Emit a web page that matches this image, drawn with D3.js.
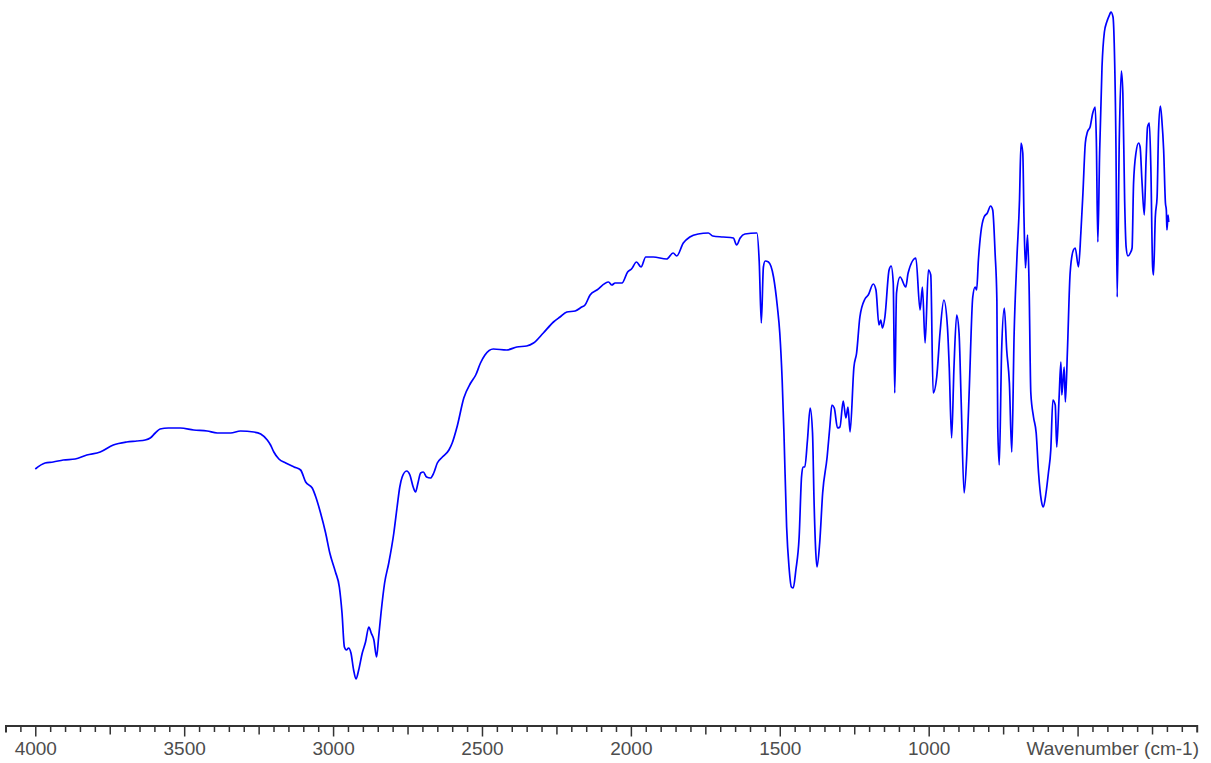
<!DOCTYPE html>
<html>
<head>
<meta charset="utf-8">
<script src="https://cdn.jsdelivr.net/npm/d3@7"></script>
<style>
  html, body { margin: 0; padding: 0; background: #fff; }
  svg { display: block; }
</style>
</head>
<body>
<svg id="chart" width="1211" height="763"></svg>
<script>
// ---- data ----
const wavenumbers = [
4000,3967,3940,3906,3866,3827,3782,3738,3693,3659,3631,3614,3597,3581,3553,3513,
3468,3423,3389,3344,3311,3266,3243,3221,3210,3199,3182,3159,3131,3109,3092,3070,
3058,3042,3025,3011,2992,2979,2970,2962,2955,2948,2940,2931,2923,2914,2902,2891,
2880,2872,2863,2854,2847,2839,2827,2813,2796,2785,2776,2768,2753,2742,2731,2723,
2715,2706,2697,2686,2673,2662,2650,2633,2611,2600,2583,2561,2538,2521,2505,2490,
2462,2417,2383,2350,2327,2294,2260,2238,2215,2187,2165,2154,2137,2114,2075,2064,
2053,2030,2011,1998,1981,1966,1950,1925,1880,1858,1846,1824,1802,1774,1740,1725,
1690,1656,1645,1633,1617,1577,1569,1562,1555,1549,1538,1521,1508,1500,1492,1486,
1477,1469,1461,1455,1446,1435,1427,1422,1416,1407,1398,1390,1385,1379,1375,1366,
1356,1341,1332,1325,1317,1306,1298,1287,1278,1271,1264,1251,1242,1231,1214,1203,
1186,1177,1167,1161,1155,1147,1133,1126,1119,1114,1108,1096,1077,1069,1043,1029,
1021,1012,1001,993,985,973,962,949,937,931,923,915,906,898,891,881,
872,863,852,844,839,833,825,814,803,792,785,777,771,768,763,755,
746,738,729,721,713,704,695,690,684,680,675,668,663,657,648,639,
631,622,615,606,598,590,583,575,570,562,556,553,545,541,534,525,
514,508,497,489,482,474,467,458,449,441,437,432,426,418,410,402,
393,388,381,377,371,367,360,353,348,342,337,331,323,317,312,304,
295,290,284,276,270,265,259,254,248,245,239,233,228,222,217,211,
205,202,200,196,194
];
const transmittance = [
23.1,23.7,23.8,24.0,24.1,24.5,24.8,25.5,25.8,25.9,26.0,26.2,26.7,27.1,27.2,27.2,
27.0,26.9,26.7,26.7,26.9,26.8,26.6,26.0,25.5,24.8,24.1,23.7,23.3,23.0,21.8,21.2,
20.3,18.7,16.7,14.7,12.8,11.3,8.7,5.3,5.0,5.2,4.7,3.0,2.1,3.0,4.7,5.8,
7.3,6.7,6.0,4.3,6.3,8.7,11.7,13.7,16.7,19.3,21.3,22.3,22.9,22.5,21.3,20.8,
21.7,22.7,22.8,22.3,22.2,22.7,23.7,24.3,25.0,25.7,27.4,30.2,31.7,32.5,33.7,34.5,
35.1,35.0,35.3,35.4,35.7,36.7,37.8,38.3,38.8,38.9,39.3,39.5,40.5,41.0,41.8,41.5,
41.7,41.7,42.8,43.1,43.8,43.3,44.3,44.3,44.1,44.7,44.4,45.7,46.3,46.6,46.7,46.4,
46.3,46.2,45.5,46.2,46.6,46.7,43.8,37.7,43.3,43.9,43.8,42.3,39.3,36.7,32.0,26.7,
17.3,13.3,11.3,11.2,13.0,16.3,22.3,23.3,23.3,26.0,29.2,26.7,20.0,14.7,13.3,15.7,
20.7,24.3,27.3,29.5,29.2,27.2,27.3,29.9,28.2,29.3,26.8,33.3,34.7,38.3,40.1,40.5,
41.6,41.0,37.5,38.0,37.2,38.3,43.0,43.4,41.7,30.7,40.7,42.3,41.3,42.7,44.2,39.0,
41.3,35.7,43.0,42.5,30.7,32.3,36.7,40.0,37.3,33.3,26.2,33.3,38.5,36.7,30.0,20.7,
24.5,31.7,40.3,41.3,41.0,44.0,46.7,48.3,48.7,49.4,49.0,44.7,40.0,27.3,23.5,35.0,
39.2,35.0,31.7,24.8,36.7,44.0,50.0,55.7,54.7,48.3,43.2,46.5,41.7,30.7,28.3,26.7,
22.7,20.0,19.3,20.7,22.7,25.0,30.0,29.5,25.3,30.3,33.8,30.5,33.3,29.8,35.0,42.7,
45.0,45.2,43.3,46.7,50.7,55.7,56.8,57.3,58.7,59.3,56.0,45.8,54.7,63.3,66.8,67.8,
68.5,68.8,68.3,65.7,55.0,40.3,56.0,62.9,60.7,50.0,45.3,44.4,44.7,45.2,51.7,54.7,
55.7,55.3,52.0,48.5,54.0,57.3,57.7,53.3,43.3,42.5,48.3,50.3,57.0,59.4,58.0,55.0,
49.7,49.0,47.0,48.5,47.8
];
const xDomain = [4100, 100];
const yDomain = [0, 70];
const tickLabels = ["4000", "3500", "3000", "2500", "2000", "1500", "1000"];
const axisTitle = "Wavenumber (cm-1)";

// ---- drawing ----
const svg = d3.select("#chart");
const x = d3.scaleLinear().domain(xDomain).range([5.5, 1196.7]);
const y = d3.scaleLinear().domain(yDomain).range([700, 0]);
const axisY = 725.5;

const pts = wavenumbers.map((w, i) => [w, transmittance[i]]);
const line = d3.line()
  .x(d => x(d[0]))
  .y(d => y(d[1]))
  .curve(d3.curveMonotoneX);

svg.append("path")
  .datum(pts)
  .attr("d", line)
  .attr("fill", "none")
  .attr("stroke", "#0000ff")
  .attr("stroke-width", 1.7)
  .attr("stroke-linejoin", "round");

// axis
const minorTicks = d3.range(4050, 100, -50);
const g = svg.append("g").attr("transform", `translate(0,${axisY})`);
const axis = d3.axisBottom(x)
  .tickValues(minorTicks)
  .tickSizeOuter(0)
  .tickSize(7)
  .tickFormat(d => tickLabels.includes(String(d)) ? String(d) : "");
g.call(axis);
g.select(".domain").attr("stroke", "#333").attr("stroke-width", 2);
g.selectAll(".tick line")
  .attr("stroke", "#333")
  .attr("stroke-width", 1.5)
  .attr("y2", d => (d % 500 === 0) ? 11 : (d % 250 === 0 ? 9 : 6.5));
g.selectAll(".tick text")
  .attr("y", 16)
  .attr("dy", "0.71em")
  .attr("fill", "#4d4d4d")
  .style("font-family", "'Liberation Sans', Arial, sans-serif")
  .style("font-size", "19px");

svg.append("text")
  .attr("x", 1199)
  .attr("y", 755)
  .attr("text-anchor", "end")
  .attr("fill", "#4d4d4d")
  .style("font-family", "'Liberation Sans', Arial, sans-serif")
  .style("font-size", "19px")
  .text(axisTitle);
</script>
</body>
</html>
